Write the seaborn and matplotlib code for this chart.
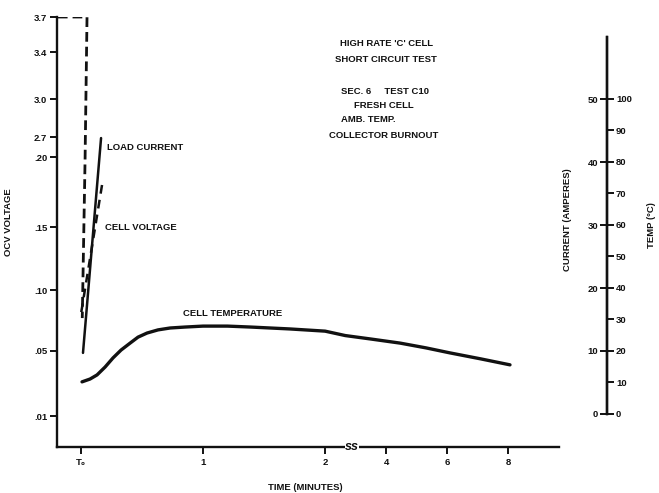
import numpy as np
import matplotlib
matplotlib.use("Agg")
import matplotlib.pyplot as plt
import seaborn as sns

# --- donnees ---
# temperature de la cellule (degC) en fonction du temps (min)
TIME_TEMP = [0.008, 0.074, 0.131, 0.197, 0.262, 0.328, 0.402, 0.467, 0.541, 0.631,
             0.730, 0.852, 1.00, 1.20, 1.39, 1.71, 2.00, 2.33, 2.66, 3.50, 4.46,
             5.30, 6.09, 7.10, 8.06]
CELL_TEMP = [10.2, 11.1, 12.4, 14.9, 17.8, 20.3, 22.5, 24.4, 25.7, 26.7,
             27.3, 27.6, 27.9, 27.9, 27.6, 27.0, 26.3, 25.6, 24.9, 23.8, 22.5,
             21.0, 19.4, 17.5, 15.6]

# courant de charge (A)
TIME_CUR = [0.016, 0.164]
LOAD_CUR = [9.7, 43.8]

# tension a vide (V), trait pointille
TIME_OCV = [-0.19, 0.049, 0.033, 0.010]
OCV = [3.7, 3.7, 0.198, 0.077]

# tension de la cellule (V), second pointille
TIME_CV = [0.172, -0.006]
CELL_V = [0.18, 0.077]

# graduations
VOLT_TICKS = [0.01, 0.05, 0.10, 0.15, 0.20, 2.7, 3.0, 3.4, 3.7]
VOLT_LABELS = [".01", ".05", ".10", ".15", ".20", "2.7", "3.0", "3.4", "3.7"]
VOLT_POS = [31, 96, 157, 220, 290, 310, 348, 395, 430]  # echelle non lineaire de l'axe
TIME_TICKS = [0, 1, 2, 4, 6, 8]
TIME_LABELS = ["T\u2080", "1", "2", "4", "6", "8"]
TEMP_TICKS = list(range(0, 101, 10))
CUR_TICKS = list(range(0, 51, 10))


def piecewise(v, xs, ys):
    """Interpolation lineaire avec prolongement aux extremites."""
    v = np.asarray(v, dtype=float)
    shape = v.shape
    v = np.atleast_1d(v).ravel()
    out = np.interp(v, xs, ys)
    lo = v < xs[0]
    hi = v > xs[-1]
    out[lo] = ys[0] + (v[lo] - xs[0]) * (ys[1] - ys[0]) / (xs[1] - xs[0])
    out[hi] = ys[-1] + (v[hi] - xs[-1]) * (ys[-1] - ys[-2]) / (xs[-1] - xs[-2])
    return out.reshape(shape)


def volt_fwd(v):
    return piecewise(v, VOLT_TICKS, VOLT_POS)


def volt_inv(p):
    return piecewise(p, VOLT_POS, VOLT_TICKS)


def time_fwd(t):
    t = np.asarray(t, dtype=float)
    return np.where(t <= 2, t, 2 + (t - 2) / 4)


def time_inv(u):
    u = np.asarray(u, dtype=float)
    return np.where(u <= 2, u, 2 + (u - 2) * 4)


sns.set_theme(style="white")
plt.rcParams["font.family"] = ["Liberation Sans Narrow", "Liberation Sans", "DejaVu Sans"]
plt.rcParams["font.weight"] = "bold"
INK = "#111111"
FS = 6.8

W, H = 659, 493
fig = plt.figure(figsize=(W / 100, H / 100), dpi=100)
ax = fig.add_axes([57 / W, 1 - 447 / H, 550 / W, 430 / H])
ax.set_xscale("function", functions=(time_fwd, time_inv))
ax.set_yscale("function", functions=(volt_fwd, volt_inv))
ax_t = ax.twinx()
ax_c = ax.twinx()

# courbes
sns.lineplot(x=TIME_OCV, y=OCV, ax=ax, color=INK, lw=2.0, sort=False,
             estimator=None, linestyle=(0, (3.5, 1.8)))
sns.lineplot(x=TIME_CV, y=CELL_V, ax=ax, color=INK, lw=1.8, sort=False,
             estimator=None, linestyle=(0, (3.5, 2.5)))
sns.lineplot(x=TIME_TEMP, y=CELL_TEMP, ax=ax_t, color=INK, lw=2.4, sort=False, estimator=None)
sns.lineplot(x=TIME_CUR, y=LOAD_CUR, ax=ax_c, color=INK, lw=1.8, sort=False, estimator=None)

# limites
ax.set_xlim(-0.197, 11.24)
ax.set_ylim(float(volt_inv(0.0)), 3.7)
ax_t.set_ylim(-10.48, 126.03)
ax_c.set_ylim(-5.24, 63.02)

# axe gauche (tension)
for s in ["top", "right"]:
    ax.spines[s].set_visible(False)
ax.spines["left"].set_linewidth(1.7)
ax.spines["bottom"].set_linewidth(1.7)
ax.spines["left"].set_color(INK)
ax.spines["bottom"].set_color(INK)
ax.spines["bottom"].set_bounds(-0.197, 9.67)
ax.set_yticks(VOLT_TICKS)
ax.set_yticklabels(VOLT_LABELS)
ax.yaxis.set_minor_locator(matplotlib.ticker.NullLocator())
ax.set_xticks(TIME_TICKS)
ax.set_xticklabels(TIME_LABELS)
ax.xaxis.set_minor_locator(matplotlib.ticker.NullLocator())
ax.tick_params(axis="both", which="major", length=5, width=1.4, color=INK,
               labelsize=FS, labelcolor=INK, pad=2)
ax.tick_params(axis="y", left=True, right=False)
ax.tick_params(axis="x", bottom=True, top=False, pad=3)
ax.set_ylabel("OCV VOLTAGE", fontsize=FS, color=INK, fontweight="bold")
ax.yaxis.set_label_coords(-0.08, 0.523)
ax.set_xlabel("TIME (MINUTES)", fontsize=FS, color=INK, fontweight="bold")
ax.xaxis.set_label_coords((305 - 57) / 550, -(483 - 447) / 430)

# coupure de l'axe des temps
ax.text(2.885, 0, "ss", transform=ax.get_xaxis_transform(), ha="center", va="center",
        fontsize=9, style="italic", color=INK,
        bbox=dict(facecolor="white", edgecolor="none", pad=0.3))

# axe droit : temperature
for s in ["top", "bottom", "left"]:
    ax_t.spines[s].set_visible(False)
ax_t.spines["right"].set_bounds(0, 119.7)
ax_t.spines["right"].set_linewidth(1.7)
ax_t.spines["right"].set_color(INK)
ax_t.set_yticks(TEMP_TICKS)
ax_t.tick_params(axis="y", right=True, left=False, labelright=True, labelleft=False,
                 length=5, width=1.4, color=INK, labelsize=FS, labelcolor=INK, pad=1.5)
ax_t.set_ylabel("")

# axe droit : courant (graduations a gauche de la meme ligne)
for s in ["top", "bottom", "right"]:
    ax_c.spines[s].set_visible(False)
ax_c.spines["left"].set_position(("axes", 1.0))
ax_c.spines["left"].set_bounds(0, 59.85)
ax_c.spines["left"].set_linewidth(1.7)
ax_c.spines["left"].set_color(INK)
ax_c.set_yticks(CUR_TICKS)
ax_c.tick_params(axis="y", left=True, right=False, labelleft=True, labelright=False,
                 length=5, width=1.4, color=INK, labelsize=FS, labelcolor=INK, pad=1.5)
ax_c.set_ylabel("")
for a in (ax_t, ax_c):
    a.yaxis.set_minor_locator(matplotlib.ticker.NullLocator())
    a.grid(False)
ax.grid(False)


def ftext(px, py, s, **kw):
    kw.setdefault("fontsize", FS)
    kw.setdefault("color", INK)
    kw.setdefault("fontweight", "bold")
    fig.text(px / W, 1 - py / H, s, **kw)


# titre
ftext(387, 43, "HIGH RATE 'C' CELL", ha="center", va="center")
ftext(386, 59, "SHORT CIRCUIT TEST", ha="center", va="center")
ftext(385, 91, "SEC. 6     TEST C10", ha="center", va="center")
ftext(384, 105, "FRESH CELL", ha="center", va="center")
ftext(368, 119, "AMB. TEMP.", ha="center", va="center")
ftext(384, 135, "COLLECTOR BURNOUT", ha="center", va="center")

# etiquettes des courbes
ftext(107, 148, "LOAD CURRENT", ha="left", va="center")
ftext(105, 227, "CELL VOLTAGE", ha="left", va="center")
ftext(183, 313, "CELL TEMPERATURE", ha="left", va="center")

# titres des axes de droite
ftext(567, 220, "CURRENT (AMPERES)", rotation=90, ha="center", va="center")
ftext(652, 225, "TEMP (\u00b0C)", rotation=90, ha="center", va="center")

fig.savefig("out.png", dpi=100, facecolor="white")
